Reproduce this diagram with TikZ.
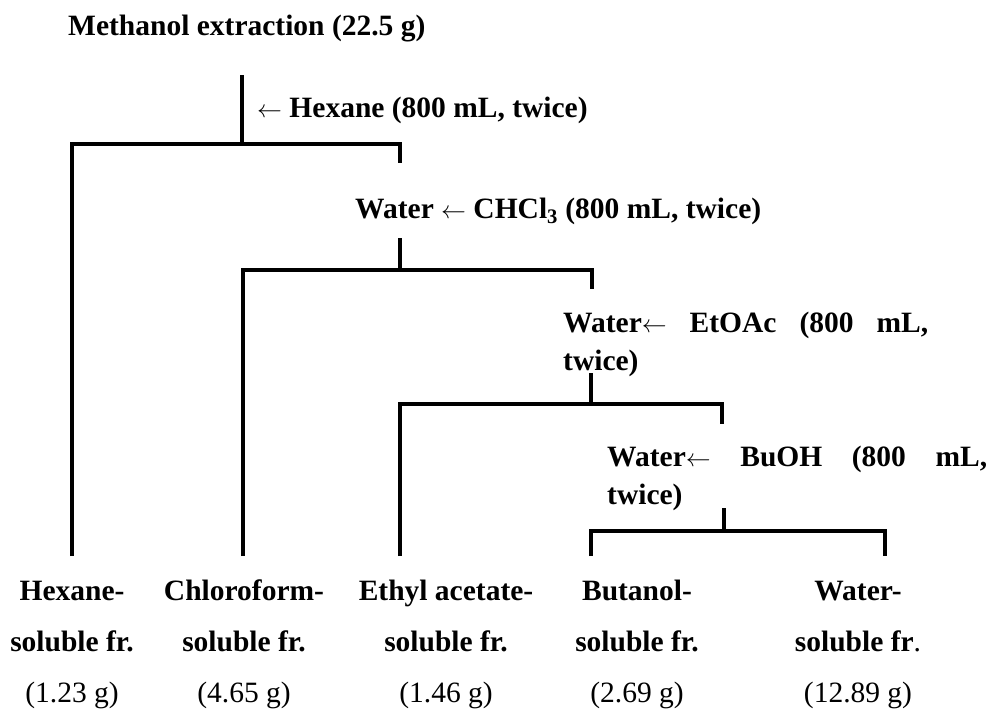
\documentclass[tikz,border=0pt]{standalone}
\usepackage{fontspec}
\setmainfont{Liberation Serif}
\usetikzlibrary{positioning}
\newcommand{\lar}{$\leftarrow$}
\tikzset{
  branch/.style={line width=4pt, line join=miter},
  solvent/.style={inner sep=0pt, anchor=base west, align=left, font=\fontsize{29.5}{38}\selectfont\bfseries},
  fraction/.style={inner sep=0pt, anchor=base, align=center, font=\fontsize{29.5}{51}\selectfont\bfseries}
}

\begin{document}
\begin{tikzpicture}[x=1pt, y=-1pt]
  \useasboundingbox (0,0) rectangle (1003,713);

  % anchor base is the last line of a node
  \node[solvent] (meoh) at (68,35) {Methanol extraction (22.5 g)};
  \node[solvent] (hexane) at (257,117) {\lar{} Hexane (800 mL, twice)};
  \node[solvent] (chcl) at (355,218) {Water \lar{} CHCl\textsubscript{3} (800 mL, twice)};
  \node[solvent] (etoac) at (563,370) {\makebox[365pt][s]{Water\lar{} EtOAc (800 mL,}\\twice)};
  \node[solvent] (buoh) at (607,504) {\makebox[380pt][s]{Water\lar{} BuOH (800 mL,}\\twice)};

  \node[fraction] (hexfr) at (72,702) {Hexane-\\soluble fr.\\\mdseries(1.23 g)};
  \node[fraction] (chlfr) at (244,702) {Chloroform-\\soluble fr.\\\mdseries(4.65 g)};
  \node[fraction] (etfr) at (446,702) {Ethyl acetate-\\soluble fr.\\\mdseries(1.46 g)};
  \node[fraction] (bufr) at (637,702) {Butanol-\\soluble fr.\\\mdseries(2.69 g)};
  \node[fraction] (wafr) at (858,702) {Water-\\soluble fr{\mdseries.}\\\mdseries(12.89 g)};

  % split points of the scheme
  \coordinate (stem1) at (242,75);
  \coordinate (fork1) at (242,144);
  \coordinate (tick1) at (400,163);
  \coordinate (stem2) at (400,238);
  \coordinate (fork2) at (400,270);
  \coordinate (tick2) at (592,289);
  \coordinate (stem3) at (591,373);
  \coordinate (fork3) at (591,404);
  \coordinate (tick3) at (722,424);
  \coordinate (stem4) at (724,508);
  \coordinate (fork4) at (724,531);
  \coordinate (hexend) at (72,556);
  \coordinate (chlend) at (243,556);
  \coordinate (etend) at (400,556);
  \coordinate (buend) at (591,556);
  \coordinate (waend) at (885,556);

  \draw[branch] (stem1) -- (fork1);
  \draw[branch] (hexend) |- (tick1 |- fork1) -- (tick1);
  \draw[branch] (stem2) -- (fork2);
  \draw[branch] (chlend) |- (tick2 |- fork2) -- (tick2);
  \draw[branch] (stem3) -- (fork3);
  \draw[branch] (etend) |- (tick3 |- fork3) -- (tick3);
  \draw[branch] (stem4) -- (fork4);
  \draw[branch] (buend) |- (waend |- fork4) -- (waend);
\end{tikzpicture}
\end{document}
